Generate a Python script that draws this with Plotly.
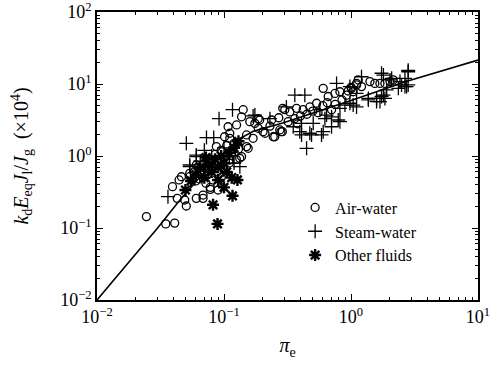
import plotly.graph_objects as go

# ---------------- data ----------------
air_x = [0.0245, 0.0348, 0.0409, 0.0428, 0.0505, 0.0605, 0.0684, 0.078,
         0.0393, 0.0443, 0.0462, 0.0537, 0.0605, 0.0665, 0.0491,
         0.058, 0.062, 0.066, 0.07, 0.074, 0.078, 0.082, 0.085, 0.088, 0.09,
         0.095, 0.1, 0.1, 0.105, 0.11, 0.115, 0.12, 0.125, 0.13, 0.064, 0.072,
         0.095, 0.054, 0.06,
         0.1077, 0.1256, 0.111, 0.101, 0.087, 0.1505, 0.175, 0.203, 0.244, 0.288,
         0.133, 0.111, 0.1505, 0.1416, 0.1375, 0.186, 0.29,
         0.1597, 0.191, 0.237, 0.186, 0.1695, 0.21, 0.155, 0.1375, 0.118, 0.111,
         0.078, 0.0898, 0.0684,
         0.275, 0.301, 0.33, 0.372, 0.42, 0.474, 0.536, 0.604, 0.661, 0.703,
         0.747, 0.818, 0.923, 1.01, 1.106, 1.14, 0.251, 0.281,
         0.32, 0.36, 0.4, 0.45, 0.5, 0.55, 0.6, 0.65, 0.38, 0.27, 0.23, 0.85, 0.75,
         1.41, 1.54, 1.69, 1.85, 2.03, 2.15, 1.106, 1.04, 1.21, 0.95, 1.0]
air_y = [0.144, 0.114, 0.117, 0.258, 0.202, 0.258, 0.258, 0.344,
         0.375, 0.465, 0.515, 0.575, 0.75, 0.545, 0.245,
         0.60, 0.70, 0.62, 0.80, 0.55, 0.90, 0.70, 1.05, 0.60, 0.85,
         1.2, 0.95, 0.65, 1.4, 0.8, 1.1, 1.5, 0.9, 1.25, 0.48, 0.42,
         0.5, 0.52, 0.45,
         2.55, 2.7, 2.07, 1.85, 1.35, 1.96, 2.84, 2.18, 1.85, 2.18,
         0.93, 0.88, 1.35, 4.4, 3.5, 3.3, 4.6,
         3.0, 3.16, 3.16, 2.43, 1.76, 2.07, 1.28, 0.98, 1.28, 1.76,
         0.367, 0.337, 0.287,
         2.3, 4.4, 4.1, 4.6, 4.4, 4.8, 5.4, 8.7, 6.7, 4.4,
         7.4, 7.8, 7.0, 8.7, 10.2, 11.4, 1.85, 2.18,
         3.0, 3.3, 3.6, 3.8, 4.2, 4.0, 5.0, 5.5, 2.8, 3.4, 2.6, 6.0, 5.2,
         10.8, 10.2, 10.2, 10.2, 10.8, 11.4, 9.7, 7.8, 9.2, 8.0, 9.0]

steam_x = [0.0362, 0.0505, 0.0537, 0.0605, 0.0728, 0.083, 0.0914, 0.1167, 0.1695,
           0.23, 0.31, 0.1333, 0.0537, 0.0605,
           0.07, 0.08, 0.095, 0.1, 0.11, 0.12, 0.075, 0.065,
           0.361, 0.433, 0.77, 0.98, 1.106, 0.896, 1.04, 0.818, 0.703, 0.604,
           0.395, 0.474, 0.586, 0.504, 0.408, 0.447, 0.351, 0.703, 0.623, 0.569,
           0.408, 0.489, 0.793, 0.642, 0.818, 1.106, 0.98, 1.21, 0.175,
           1.74, 2.09, 2.43, 2.82, 2.82, 2.66, 2.36, 1.91, 1.8, 1.59, 1.37, 1.85,
           1.69, 2.82, 2.66, 2.74, 2.5, 1.8, 2.03, 1.74, 1.59, 1.37]
steam_y = [0.272, 1.5, 0.71, 0.98, 1.8, 1.8, 3.3, 4.4, 3.6,
           3.3, 4.8, 0.71, 0.75, 1.03,
           1.2, 1.0, 0.75, 1.3, 1.0, 0.8, 0.65, 0.85,
           7.0, 7.0, 10.2, 9.2, 7.4, 5.1, 5.1, 3.0, 2.55, 2.18,
           2.18, 2.07, 1.96, 2.84, 2.84, 1.28, 2.55, 3.5, 3.3, 4.4,
           1.96, 1.96, 3.16, 3.7, 4.6, 4.8, 5.4, 12.6, 3.7,
           14.1, 12.0, 10.8, 14.8, 9.7, 9.2, 8.7, 8.3, 7.0, 6.3, 6.3, 6.3,
           5.7, 15.5, 12.0, 9.2, 9.7, 13.3, 11.4, 6.7, 5.7, 6.0]

other_x = [0.0497, 0.082, 0.0889, 0.1, 0.1167, 0.1276, 0.0898,
           0.06, 0.065, 0.07, 0.075, 0.08, 0.085, 0.09, 0.095, 0.1, 0.105,
           0.11, 0.115, 0.12, 0.072, 0.055, 0.13]
other_y = [0.337, 0.21, 0.114, 0.367, 0.28, 0.465, 0.465,
           0.55, 0.7, 0.5, 0.75, 0.6, 0.9, 0.7, 1.0, 0.8, 0.6,
           1.1, 0.5, 1.3, 0.95, 0.45, 1.6]

corr_x = [0.01, 0.03, 0.045, 0.07, 0.1, 0.13, 0.17, 0.29, 1.0, 2.8, 10.0]
corr_y = [0.01, 0.1, 0.245, 0.6, 1.1, 1.7, 2.2, 2.87, 5.9, 11.0, 21.5]

major_vals = [0.01, 0.1, 1, 10, 100]
major_text = ['10<sup>−2</sup>', '10<sup>−1</sup>', '10<sup>0</sup>',
              '10<sup>1</sup>', '10<sup>2</sup>']

FONT = 'Liberation Serif'

minor_x = [m * d for d in (0.01, 0.1, 1) for m in range(2, 10)]
minor_y = [m * d for d in (0.01, 0.1, 1, 10) for m in range(2, 10)]

fig = go.Figure()
fig.add_trace(go.Scatter(x=corr_x, y=corr_y, mode='lines',
                         line=dict(color='black', width=1.6), showlegend=False,
                         hoverinfo='skip'))
fig.add_trace(go.Scatter(x=air_x, y=air_y, mode='markers', name='Air-water',
                         marker=dict(symbol='circle-open', size=8, color='black',
                                     line=dict(width=1.3, color='black'))))
fig.add_trace(go.Scatter(x=steam_x, y=steam_y, mode='markers', name='Steam-water',
                         marker=dict(symbol='cross-thin-open', size=10, color='black',
                                     line=dict(width=1.3, color='black'))))
fig.add_trace(go.Scatter(x=other_x, y=other_y, mode='markers', name='Other fluids',
                         marker=dict(symbol='asterisk-open', size=10, color='black',
                                     line=dict(width=2.4, color='black'))))

axis_common = dict(
    type='log', showgrid=False, zeroline=False, showline=True, linecolor='black',
    linewidth=1.5, mirror='allticks', ticks='inside', ticklen=6, tickwidth=1.2,
    tickcolor='black', tickmode='array', tickvals=major_vals, ticktext=major_text,
    tickfont=dict(family=FONT, size=18, color='black'), automargin=False,
    ticklabeloverflow='allow',
)

fig.update_xaxes(**axis_common, range=[-2, 1],
                 minor=dict(tickvals=minor_x, ticks='inside', ticklen=3.5,
                            tickwidth=1, tickcolor='black'),
                 title=dict(text='<i>π</i><sub>e</sub>',
                            font=dict(family=FONT, size=20, color='black'),
                            standoff=12))
fig.update_yaxes(**axis_common, range=[-2, 2],
                 minor=dict(tickvals=minor_y, ticks='inside', ticklen=3.5,
                            tickwidth=1, tickcolor='black'),
                 title=dict(text='<i>k</i><sub>d</sub><i>E</i><sub>eq</sub><i>J</i><sub>l</sub>/<i>J</i><sub>g</sub>  (×10<sup>4</sup>)',
                            font=dict(family=FONT, size=20, color='black'),
                            standoff=26))

fig.update_layout(
    width=493, height=372,
    margin=dict(l=97, r=15, t=12, b=72),
    paper_bgcolor='white', plot_bgcolor='white',
    font=dict(family=FONT, color='black'),
    legend=dict(x=0.52, y=0.38, xanchor='left', yanchor='top',
                bgcolor='rgba(0,0,0,0)', borderwidth=0,
                font=dict(family=FONT, size=16, color='black'),
                itemwidth=30, tracegroupgap=0),
)

fig.write_html('out.html')
